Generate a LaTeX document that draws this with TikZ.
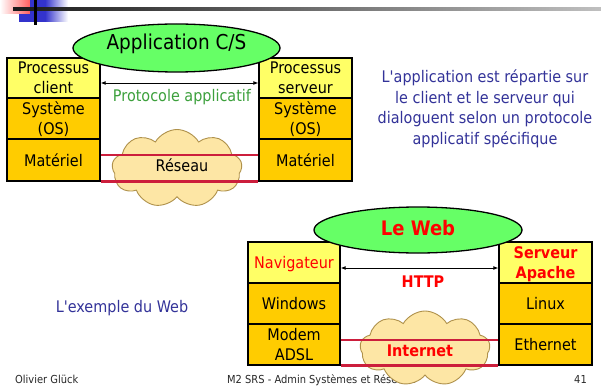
\documentclass[tikz,border=0pt]{standalone}
\usepackage{fontspec}
\setmainfont{DejaVu Sans}[FakeStretch=0.9, Ligatures=TeXOff]
\usetikzlibrary{shapes.geometric,shapes.symbols,arrows.meta}
\definecolor{lyel}{RGB}{255,255,102}
\definecolor{gold}{RGB}{255,204,0}
\definecolor{egreen}{RGB}{102,255,102}
\definecolor{cloudfill}{RGB}{253,230,165}
\definecolor{cloudline}{RGB}{175,145,75}
\definecolor{bandred}{RGB}{204,30,60}
\definecolor{ptxt}{RGB}{51,51,153}
\definecolor{ggreen}{RGB}{60,160,60}
\definecolor{decoblue}{RGB}{51,51,204}
\definecolor{foot}{RGB}{40,40,40}
\tikzset{
  layer/.style={draw=black, line width=1.3pt, inner sep=0pt, align=center,
    font=\fontsize{16}{20}\selectfont, text depth=0pt},
  toplayer/.style={layer, fill=lyel},
  lowlayer/.style={layer, fill=gold},
  midbox/.style={draw=black, line width=1.3pt, fill=white},
  appell/.style={ellipse, draw=black, line width=1.3pt, fill=egreen, inner sep=0pt},
  netcloud/.style={cloud, cloud puffs=9, cloud puff arc=120, aspect=1.6,
    draw=cloudline, line width=0.9pt, fill=cloudfill, inner sep=0pt},
  bandthin/.style={bandred, line width=1.6pt},
  bandthick/.style={bandred, line width=3pt},
  proto/.style={{Latex[length=5pt,width=4pt]}-{Latex[length=5pt,width=4pt]}, line width=0.9pt},
  lbl/.style={font=\fontsize{16}{20}\selectfont, inner sep=0pt},
  bluetxt/.style={lbl, text=ptxt, align=center},
  foottxt/.style={font=\fontsize{11}{13}\selectfont, text=foot, inner sep=0pt}
}
\begin{document}
\begin{tikzpicture}[x=1pt,y=-1pt]
\useasboundingbox (0,0) rectangle (601,385);
\fill[white] (0,0) rectangle (601,385);
% decoration
\shade[left color=white, right color=red!65] (0,0) rectangle (31,14);
\fill[decoblue] (30,0) rectangle (45,22);
\fill[decoblue] (19,14) rectangle (30,22);
\shade[left color=decoblue, right color=white] (45,0) rectangle (68,22);
\shade[left color=black!90, right color=black!25] (13,8) rectangle (601,10.5);
\fill[black] (34,0) rectangle (36.5,25);

% ===== top diagram =====
\node[toplayer, minimum width=93pt, minimum height=40pt] (pc) at (53.5,78) {Processus\\client};
\node[lowlayer, minimum width=93pt, minimum height=41pt] (sc) at (53.5,118.5) {Système\\(OS)};
\node[lowlayer, minimum width=93pt, minimum height=42pt] (mc) at (53.5,160) {Matériel};
\node[toplayer, minimum width=93pt, minimum height=40pt] (ps) at (305.5,78) {Processus\\serveur};
\node[lowlayer, minimum width=93pt, minimum height=41pt] (ss) at (305.5,118.5) {Système\\(OS)};
\node[lowlayer, minimum width=93pt, minimum height=42pt] (ms) at (305.5,160) {Matériel};
\draw[midbox] (pc.north east) rectangle (ms.south west);
\node[appell, minimum width=207pt, minimum height=48pt] (app) at (176.5,48) {};
\node[font=\fontsize{20.5}{24}\selectfont, anchor=base, inner sep=0pt] (apptxt) at (176.5,50) {Application C/S};
\draw[proto] ([yshift=-5pt]pc.east) -- ([yshift=-5pt]ps.west);
\node[lbl, text=ggreen, anchor=base] (prot) at (182,101) {Protocole applicatif};
\node[netcloud, minimum width=130pt, minimum height=78pt] (res) at (177,168.5) {};
\draw[bandthin] ([yshift=5pt]mc.east) -- ([yshift=5pt]ms.west);
\draw[bandthick] (mc.south east) -- (ms.south west);
\node[lbl, anchor=base] (restxt) at (182,171) {Réseau};

\node[bluetxt, font=\fontsize{16}{20.5}\selectfont] (expl) at (485,109)
  {L'application est répartie sur\\le client et le serveur qui\\dialoguent selon un protocole\\applicatif spécifique};
\node[lbl, text=ptxt, anchor=base] (webex) at (122,312) {L'exemple du Web};

% footer
\node[foottxt, anchor=base west] (f1) at (15,383) {Olivier Glück};
\node[foottxt, anchor=base west] (f2) at (227,383) {M2 SRS - Admin Systèmes et Réseaux};
\node[foottxt, anchor=base east] (f3) at (587,383) {41};

% ===== bottom diagram =====
\node[toplayer, minimum width=92pt, minimum height=41pt, text=red] (nav) at (294,262.5) {Navigateur};
\node[lowlayer, minimum width=92pt, minimum height=41pt] (win) at (294,303.5) {Windows};
\node[lowlayer, minimum width=92pt, minimum height=41pt] (mod) at (294,344.5) {Modem\\ADSL};
\node[toplayer, minimum width=93pt, minimum height=41pt, text=red, font=\fontsize{16}{20}\selectfont\bfseries] (apa) at (545.5,262.5) {Serveur\\Apache};
\node[lowlayer, minimum width=93pt, minimum height=41pt] (lin) at (545.5,303.5) {Linux};
\node[lowlayer, minimum width=93pt, minimum height=41pt] (eth) at (545.5,344.5) {Ethernet};
\draw[midbox] (nav.north east) rectangle (eth.south west);
\node[appell, minimum width=208pt, minimum height=46pt] (web) at (418,230) {};
\node[font=\fontsize{20}{24}\selectfont\bfseries, text=red, anchor=base, inner sep=0pt] (webtxt) at (418,235) {Le Web};
\draw[proto] ([yshift=-5.5pt]nav.east) -- ([yshift=-5.5pt]apa.west);
\node[lbl, font=\fontsize{16}{20}\selectfont\bfseries, text=red, anchor=base] (http) at (423,287) {HTTP};
\node[netcloud, minimum width=130pt, minimum height=75pt] (inet) at (425,348.5) {};
\draw[bandthin] ([yshift=4.5pt]mod.east) -- ([yshift=4.5pt]eth.west);
\draw[bandthick] (mod.south east) -- (eth.south west);
\node[lbl, font=\fontsize{16}{20}\selectfont\bfseries, text=red, anchor=base] (inettxt) at (420,356) {Internet};
\end{tikzpicture}
\end{document}
